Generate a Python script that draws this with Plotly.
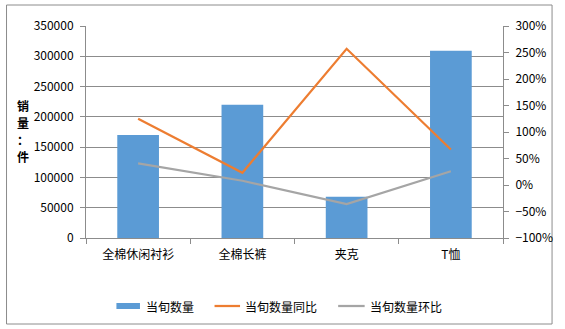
import plotly.graph_objects as go

# 品类与指标数据
categories = ["全棉休闲衬衫", "全棉长裤", "夹克", "T恤"]
qty = [170000, 220000, 68000, 309000]          # 当旬数量（件）
yoy_pct = [125, 23, 257, 67]                   # 当旬数量同比（%）
mom_pct = [41, 8, -36, 26]                     # 当旬数量环比（%）

series_names = ["当旬数量", "当旬数量同比", "当旬数量环比"]
y_title = "销量：件"

W, H = 565, 329
L, R, T, B = 86, 511, 26, 238
FONT = "Noto Sans CJK SC, SimSun, sans-serif"
GRID = "#8c8c8c"

fig = go.Figure()
fig.add_trace(go.Bar(
    x=categories, y=qty, name=series_names[0],
    marker=dict(color="#5b9bd5", line=dict(width=0)),
    yaxis="y", showlegend=False,
))
fig.add_trace(go.Scatter(
    x=categories, y=yoy_pct, name=series_names[1], mode="lines",
    line=dict(color="#ed7d31", width=2.25), yaxis="y2", showlegend=False,
))
fig.add_trace(go.Scatter(
    x=categories, y=mom_pct, name=series_names[2], mode="lines",
    line=dict(color="#a5a5a5", width=2.25), yaxis="y2", showlegend=False,
))


def px_x(px):
    return (px - L) / (R - L)


def px_y(py):
    return (B - py) / (B - T)


shapes = [
    # 外框
    dict(type="rect", xref="paper", yref="paper",
         x0=px_x(5), x1=px_x(561), y0=px_y(5), y1=px_y(324),
         line=dict(color="#8c8c8c", width=1), layer="below"),
]
annotations = []

# 纵向坐标轴标题，逐字竖排
for i, ch in enumerate(y_title):
    annotations.append(dict(
        text=f"<b>{ch}</b>", xref="paper", yref="paper",
        x=px_x(22), y=px_y(105 + 17 * i), xanchor="center", yanchor="middle",
        showarrow=False, font=dict(family=FONT, size=12, color="#000"),
    ))

# 图例（色块/线段 + 文字）
legend_items = [
    (117, 141, "bar", "#5b9bd5", 145),
    (217, 243, "line", "#ed7d31", 246),
    (343, 370, "line", "#a5a5a5", 373),
]
ly = 306
for (x0, x1, kind, color, tx), name in zip(legend_items, series_names):
    if kind == "bar":
        shapes.append(dict(type="rect", xref="paper", yref="paper",
                           x0=px_x(x0), x1=px_x(x1), y0=px_y(ly + 3), y1=px_y(ly - 3),
                           fillcolor=color, line=dict(width=0)))
    else:
        shapes.append(dict(type="line", xref="paper", yref="paper",
                           x0=px_x(x0), x1=px_x(x1), y0=px_y(ly), y1=px_y(ly),
                           line=dict(color=color, width=2.25)))
    annotations.append(dict(text=name, xref="paper", yref="paper",
                            x=px_x(tx), y=px_y(ly), xanchor="left", yanchor="middle",
                            showarrow=False, font=dict(family=FONT, size=12, color="#000")))

fig.update_layout(
    width=W, height=H,
    margin=dict(l=L, r=W - R, t=T, b=H - B, pad=0),
    paper_bgcolor="white", plot_bgcolor="white",
    font=dict(family=FONT, size=12, color="#000"),
    bargap=0.6,
    xaxis=dict(
        type="category", tickson="boundaries", ticks="outside", ticklen=5,
        tickcolor=GRID, showline=True, linecolor=GRID, linewidth=1,
        showgrid=False, tickfont=dict(size=12), ticklabelstandoff=6,
    ),
    yaxis=dict(
        range=[0, 350000], dtick=50000, tickformat="d",
        showgrid=True, gridcolor=GRID, gridwidth=1,
        showline=True, linecolor=GRID, ticks="outside", ticklen=5, tickcolor=GRID,
        zeroline=False, tickfont=dict(size=12), ticklabelstandoff=4,
    ),
    yaxis2=dict(
        overlaying="y", side="right", range=[-100, 300], dtick=50,
        ticksuffix="%", showgrid=False, zeroline=False,
        showline=True, linecolor=GRID, ticks="outside", ticklen=5, tickcolor=GRID,
        tickfont=dict(size=12), ticklabelstandoff=4,
    ),
    shapes=shapes,
    annotations=annotations,
)

fig.write_html("out.html")
